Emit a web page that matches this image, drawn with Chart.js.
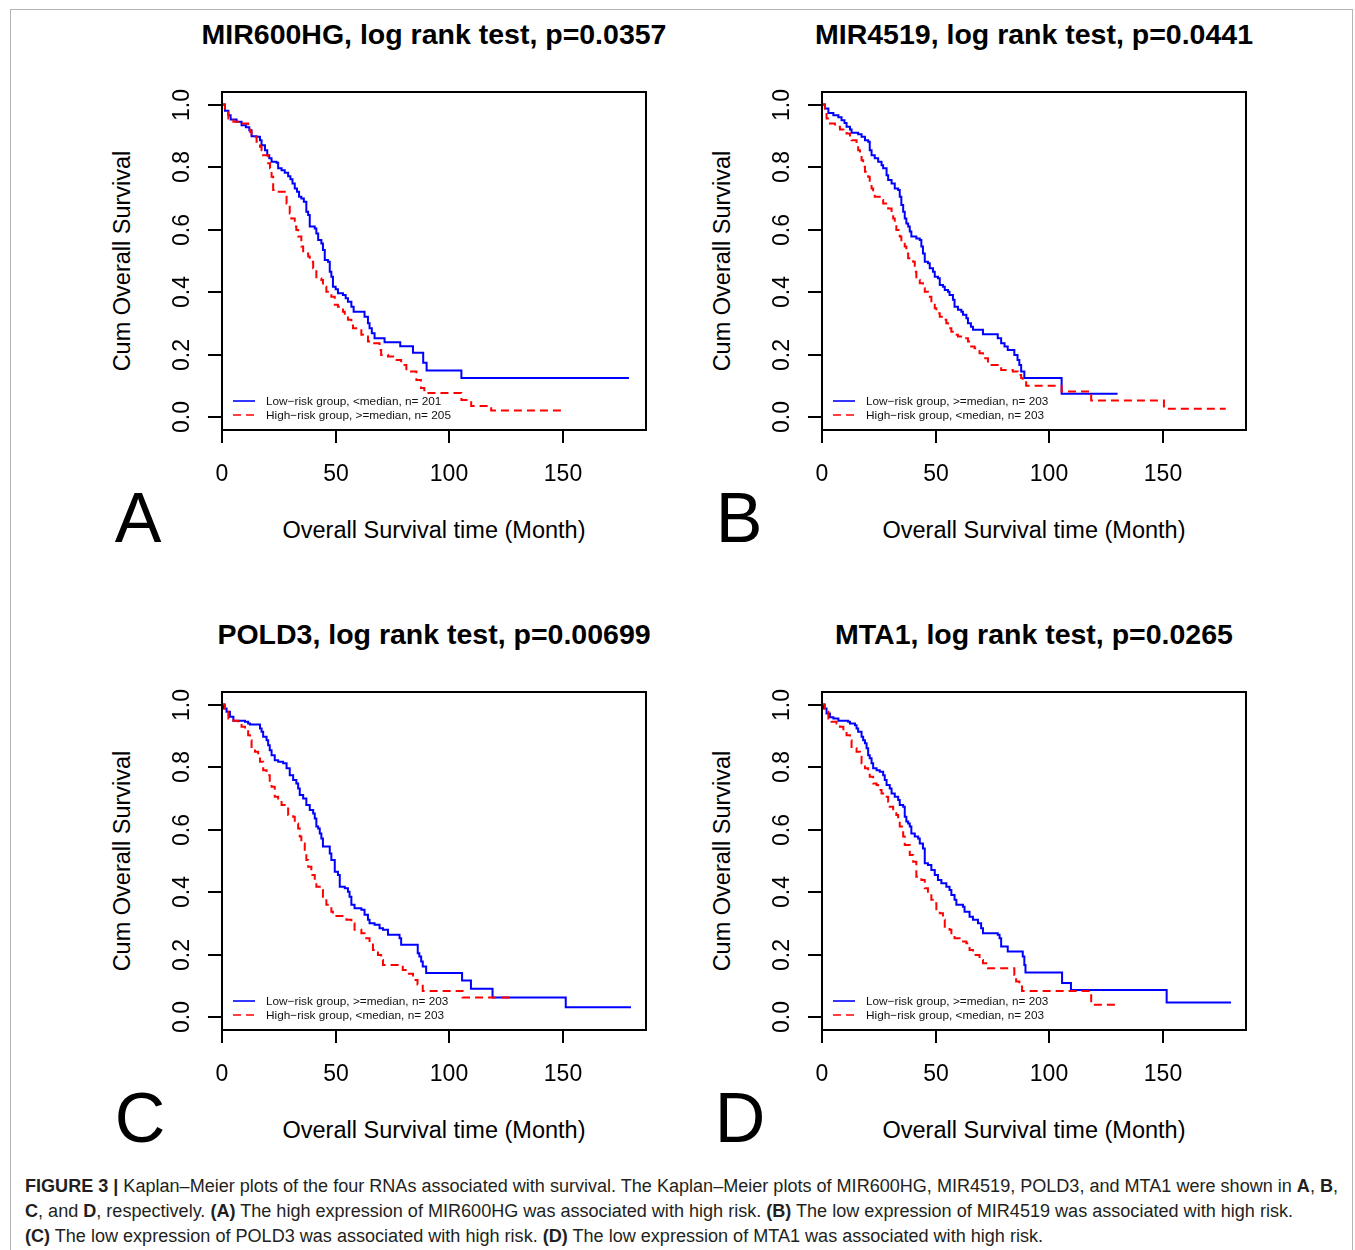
<!DOCTYPE html>
<html>
<head>
<meta charset="utf-8">
<script src="https://cdn.jsdelivr.net/npm/chart.js@4.4.1/dist/chart.umd.min.js"></script>
<style>
  html, body { margin: 0; padding: 0; background: #fff; }
  body { width: 1355px; height: 1250px; position: relative; overflow: hidden;
         font-family: "Liberation Sans", Arial, sans-serif; color: #000; }
  .frame { position: absolute; left: 10px; top: 9px; width: 1343px; height: 1300px;
           border: 1px solid #b4b4b4; box-sizing: border-box; }
  canvas.km { position: absolute; }
  .title { position: absolute; width: 600px; margin-left: -300px; height: 40px; line-height: 40px;
           margin-top: -20px; text-align: center; font-weight: bold; font-size: 28.5px; white-space: nowrap; }
  .xlab { position: absolute; width: 500px; margin-left: -250px; height: 30px; line-height: 30px;
          margin-top: -15px; text-align: center; font-size: 23.5px; white-space: nowrap; }
  .ylab { position: absolute; width: 300px; margin-left: -150px; height: 30px; line-height: 30px;
          margin-top: -15px; text-align: center; font-size: 23.5px; white-space: nowrap;
          transform: rotate(-90deg); }
  .letter { position: absolute; width: 100px; margin-left: -50px; height: 80px; line-height: 80px;
            margin-top: -40px; text-align: center; font-size: 70px; }
  .caption { position: absolute; left: 25px; top: 1174px; font-size: 18px; color: #231f20; }
  .cap-line { display: inline-block; white-space: nowrap; height: 25px; line-height: 25px;
              transform-origin: 0 50%; }
  .caption b { font-weight: bold; }
</style>
</head>
<body>
<div class="frame"></div>

<div class="title" style="left:434px; top:34px">MIR600HG, log rank test, p=0.0357</div>
<div class="title" style="left:1034px; top:34px">MIR4519, log rank test, p=0.0441</div>
<div class="title" style="left:434px; top:634px">POLD3, log rank test, p=0.00699</div>
<div class="title" style="left:1034px; top:634px">MTA1, log rank test, p=0.0265</div>

<div class="ylab" style="left:122px; top:261px">Cum Overall Survival</div>
<div class="ylab" style="left:722px; top:261px">Cum Overall Survival</div>
<div class="ylab" style="left:122px; top:861px">Cum Overall Survival</div>
<div class="ylab" style="left:722px; top:861px">Cum Overall Survival</div>

<div class="xlab" style="left:434px; top:530px">Overall Survival time (Month)</div>
<div class="xlab" style="left:1034px; top:530px">Overall Survival time (Month)</div>
<div class="xlab" style="left:434px; top:1130px">Overall Survival time (Month)</div>
<div class="xlab" style="left:1034px; top:1130px">Overall Survival time (Month)</div>

<div class="letter" style="left:138px; top:518px">A</div>
<div class="letter" style="left:739px; top:518px">B</div>
<div class="letter" style="left:140px; top:1118px">C</div>
<div class="letter" style="left:740px; top:1118px">D</div>

<canvas class="km" id="kmA" width="680" height="560" style="left:0; top:0"></canvas>
<canvas class="km" id="kmB" width="680" height="560" style="left:600px; top:0"></canvas>
<canvas class="km" id="kmC" width="680" height="560" style="left:0; top:600px"></canvas>
<canvas class="km" id="kmD" width="680" height="560" style="left:600px; top:600px"></canvas>

<div class="caption">
  <div><span class="cap-line"><b>FIGURE 3 |</b> Kaplan–Meier plots of the four RNAs associated with survival. The Kaplan–Meier plots of MIR600HG, MIR4519, POLD3, and MTA1 were shown in <b>A</b>, <b>B</b>,</span></div>
  <div><span class="cap-line"><b>C</b>, and <b>D</b>, respectively. <b>(A)</b> The high expression of MIR600HG was associated with high risk. <b>(B)</b> The low expression of MIR4519 was associated with high risk.</span></div>
  <div><span class="cap-line"><b>(C)</b> The low expression of POLD3 was associated with high risk. <b>(D)</b> The low expression of MTA1 was associated with high risk.</span></div>
</div>

<script>
/* global Chart */

// axis ticks (months / survival probability)
const xTicks = [0, 50, 100, 150];
const yTicks = [0, 0.2, 0.4, 0.6, 0.8, 1.0];

// A: MIR600HG
const aLowTime = [0,1.3,2.8,3.8,6.4,8.6,10.5,12,13,15.2,16.7,17.4,18.9,19.9,20.8,21.8,24,24.7,26.2,27.6,29.1,30.1,31,32,33,33.9,34.9,36,37.1,37.9,38.6,40.8,41.5,42.3,43.7,44.4,45.2,46.6,47.4,48.1,48.8,50,51,53.2,54.4,55.4,56.9,57.9,62.7,64.2,64.9,65.9,67.1,71.5,78.4,84,88.5,90,105.3,179];
const aLowSurv = [1,0.98,0.966,0.952,0.945,0.934,0.927,0.918,0.899,0.897,0.886,0.87,0.854,0.838,0.828,0.817,0.814,0.796,0.79,0.782,0.771,0.761,0.748,0.732,0.721,0.705,0.7,0.689,0.657,0.647,0.61,0.604,0.588,0.567,0.556,0.535,0.503,0.498,0.466,0.45,0.418,0.41,0.397,0.391,0.381,0.37,0.354,0.338,0.322,0.301,0.285,0.269,0.253,0.24,0.228,0.207,0.175,0.15,0.126,0.126];
const aHighTime = [0,1.3,2.8,5,7.9,11.5,12.3,13,15.2,16.7,17.4,18.1,20.3,21.1,21.8,22.5,24,27.6,28.4,29.8,30.5,32,32.7,33.5,34.9,35.7,37.9,38.6,40.1,41.5,43.7,44.4,45.9,47.4,48.1,49.6,51,53.2,54,55.4,56.9,57.6,61.3,62,64.2,66.4,69.3,70,73,75.9,78.8,81.1,85.5,87.5,89,105.3,109.6,118.4,151.3];
const aHighSurv = [1,0.98,0.955,0.945,0.939,0.929,0.913,0.897,0.881,0.865,0.854,0.838,0.812,0.796,0.769,0.727,0.721,0.705,0.684,0.652,0.636,0.61,0.599,0.578,0.546,0.524,0.514,0.498,0.477,0.445,0.439,0.418,0.402,0.397,0.386,0.36,0.354,0.338,0.328,0.312,0.301,0.285,0.264,0.259,0.243,0.237,0.216,0.2,0.195,0.184,0.168,0.147,0.12,0.094,0.078,0.056,0.037,0.022,0.022];

// B: MIR4519
const bLowTime = [0,1.3,2.8,5,7.2,8.6,9.9,10.8,12.3,13,15.9,17.4,18.9,20.3,21,21.8,23.2,24.7,26.2,26.9,28.4,29.1,30.6,32,33.5,34.2,34.9,35.7,36.4,37.1,37.9,38.6,39.3,41.5,43,43.7,44.4,45.2,46.6,47.4,48.8,49.6,51,51.8,53.2,54,55.4,56.1,57.6,58.3,59.8,61.3,62,63.5,64.2,65.5,66.4,70.8,77.3,78.8,80.3,81.7,84.6,86,86.8,87.6,89,105.4,130];
const bLowSurv = [1,0.987,0.973,0.966,0.959,0.95,0.941,0.929,0.92,0.91,0.905,0.897,0.886,0.881,0.854,0.838,0.828,0.817,0.806,0.796,0.774,0.759,0.748,0.732,0.727,0.705,0.679,0.657,0.636,0.62,0.61,0.594,0.578,0.572,0.567,0.546,0.524,0.498,0.493,0.477,0.466,0.45,0.445,0.423,0.418,0.407,0.402,0.391,0.376,0.354,0.344,0.338,0.328,0.317,0.301,0.29,0.28,0.266,0.253,0.237,0.227,0.216,0.2,0.184,0.168,0.147,0.126,0.076,0.076];
const bHighTime = [0,1.3,2,3.5,5.7,7.9,9.4,10.8,12.3,13,15.2,15.9,16.7,17.4,18.1,18.9,20.3,21,21.8,22.5,23.2,25.4,26.9,29.1,30.6,31.3,32,32.7,34.2,34.9,36.4,37.1,37.9,40.1,40.8,41.5,43,44.4,45.2,46.6,48.1,49.6,50.3,51.8,53.2,54.7,55.4,56.9,57.6,59.8,62,64.2,65.6,67.1,69.3,70.8,73,78.1,78.8,83.9,86.1,87.6,88.3,89.8,105.4,118.4,150.4,177.6];
const bHighSurv = [1,0.977,0.955,0.939,0.929,0.92,0.913,0.907,0.897,0.886,0.87,0.854,0.838,0.822,0.801,0.785,0.769,0.748,0.732,0.716,0.705,0.695,0.684,0.668,0.652,0.636,0.62,0.599,0.578,0.562,0.546,0.524,0.509,0.498,0.466,0.439,0.429,0.413,0.402,0.386,0.365,0.349,0.333,0.322,0.312,0.301,0.285,0.274,0.264,0.259,0.253,0.243,0.227,0.221,0.205,0.189,0.168,0.163,0.152,0.147,0.136,0.126,0.12,0.101,0.083,0.054,0.028,0.028];

// C: POLD3
const cLowTime = [0,0.9,2,3.5,5,10.1,11.5,12.3,16.7,17.4,18.1,19.6,20.3,21,21.8,23.2,24.7,26.9,28.4,29.8,31.3,32.7,33.5,34.2,35.7,37.1,38.6,40.1,40.8,41.5,42.3,43,43.7,44.4,47.4,48.1,49.6,51,51.8,54,55.4,56.1,56.9,58.3,61.3,62.7,64.2,64.9,67.1,69.3,70.8,73,78.1,78.8,86.1,86.8,87.6,88.3,89.8,105.6,109.5,119,151.2,179.9];
const cLowSurv = [1,0.987,0.977,0.961,0.948,0.945,0.939,0.936,0.923,0.913,0.897,0.886,0.87,0.854,0.838,0.822,0.817,0.812,0.796,0.774,0.759,0.748,0.732,0.711,0.7,0.679,0.663,0.652,0.636,0.61,0.604,0.588,0.572,0.546,0.524,0.503,0.466,0.455,0.418,0.413,0.402,0.386,0.36,0.349,0.344,0.328,0.312,0.301,0.296,0.285,0.28,0.264,0.253,0.232,0.205,0.195,0.179,0.163,0.142,0.118,0.092,0.064,0.033,0.033];
const cHighTime = [0,1.3,2.8,5,7.2,8.6,10.1,11.5,12.3,13,14.5,15.9,16.7,18.1,19.6,21,21.8,23.2,24.7,26.2,27.6,29.1,31.3,32,33.5,34.2,34.9,36.4,37.1,37.9,39.3,40.8,41.5,43,44.4,45.9,47.4,48.1,48.8,54.7,56.9,58.3,61.3,62.7,64.9,66.4,68.6,70,70.8,79.5,81.7,84,86,88.3,105.8,126.3];
const cHighSurv = [1,0.977,0.955,0.948,0.939,0.929,0.918,0.902,0.886,0.86,0.849,0.833,0.817,0.79,0.774,0.753,0.737,0.705,0.7,0.679,0.668,0.647,0.641,0.62,0.604,0.578,0.556,0.524,0.503,0.482,0.455,0.434,0.418,0.407,0.386,0.36,0.354,0.338,0.324,0.312,0.301,0.28,0.269,0.253,0.237,0.216,0.2,0.184,0.168,0.152,0.14,0.12,0.105,0.085,0.064,0.064];

// D: MTA1
const dLowTime = [0,0.9,2,3.5,5,7.2,11.5,12.3,14.5,15.2,15.9,17.4,18.1,18.9,19.6,20.3,21,21.8,22.5,24,25.4,26.9,27.6,28.4,29.8,30.6,32,33.5,34.2,35.7,36.4,37.1,37.9,38.6,39.3,40.8,42.3,43,44.4,45.2,46.6,48.1,49.6,51,52.5,54.7,56.1,56.9,58.3,59.1,62,62.7,64.9,66.4,68.6,70,70.8,77.3,78.1,78.8,81.7,88.3,89,89.5,105.6,109.5,151.6,179.9];
const dLowSurv = [1,0.987,0.971,0.959,0.955,0.948,0.945,0.939,0.934,0.923,0.913,0.897,0.886,0.876,0.86,0.838,0.828,0.812,0.796,0.79,0.785,0.774,0.759,0.743,0.732,0.716,0.705,0.695,0.679,0.673,0.641,0.626,0.62,0.61,0.588,0.578,0.572,0.556,0.54,0.493,0.487,0.471,0.455,0.439,0.429,0.418,0.407,0.391,0.376,0.36,0.354,0.338,0.322,0.312,0.301,0.285,0.269,0.264,0.253,0.227,0.211,0.195,0.168,0.144,0.11,0.088,0.048,0.048];
const dHighTime = [0,1.3,2.8,4.2,6.4,7.9,9.4,10.8,12.3,13,15.2,16.7,17.4,18.9,20.3,21,22.5,24,24.7,26.2,27.6,29.1,29.8,31.3,32.7,33.5,34.2,35.7,36.4,38.6,40.1,41.5,43.7,45.2,46.6,48.1,49.6,50.3,51.8,53.2,54,56.1,56.9,58.3,60.5,63.5,64.9,66.4,69.3,70.8,73,84.6,85.4,86.8,88,118.4,130];
const dHighSurv = [1,0.977,0.955,0.945,0.939,0.929,0.918,0.902,0.886,0.86,0.849,0.833,0.812,0.796,0.785,0.769,0.748,0.743,0.727,0.716,0.705,0.689,0.673,0.657,0.647,0.631,0.61,0.578,0.551,0.519,0.498,0.45,0.439,0.413,0.402,0.376,0.365,0.338,0.333,0.312,0.29,0.28,0.264,0.253,0.243,0.237,0.216,0.2,0.184,0.173,0.157,0.136,0.115,0.099,0.085,0.041,0.041];

const legendA = ["Low\u2212risk group, <median, n= 201", "High\u2212risk group, >=median, n= 205"];
const legendBCD = ["Low\u2212risk group, >=median, n= 203", "High\u2212risk group, <median, n= 203"];

const BLUE = "#0000ff";
const RED = "#ff0000";
const FONT = '"Liberation Sans", Arial, sans-serif';
const RED_DASH = [8, 5];

function zip(ts, ss) {
  return ts.map((t, i) => ({ x: t, y: ss[i] }));
}

// R-style frame: box, outside ticks, rotated y labels, legend in the corner
const rFrame = {
  id: "rFrame",
  afterDraw(chart, args, opts) {
    const { ctx, chartArea: a } = chart;
    const xs = chart.scales.x;
    const ys = chart.scales.y;
    ctx.save();
    ctx.strokeStyle = "#000";
    ctx.fillStyle = "#000";
    ctx.lineWidth = 2;
    ctx.setLineDash([]);
    ctx.strokeRect(a.left, a.top, a.right - a.left, a.bottom - a.top);

    ctx.font = `23px ${FONT}`;
    ctx.textAlign = "center";
    ctx.textBaseline = "alphabetic";
    xTicks.forEach((v) => {
      const px = Math.round(xs.getPixelForValue(v));
      ctx.beginPath();
      ctx.moveTo(px, a.bottom);
      ctx.lineTo(px, a.bottom + 13);
      ctx.stroke();
      ctx.fillText(String(v), px, a.bottom + 51);
    });
    yTicks.forEach((v) => {
      const py = Math.round(ys.getPixelForValue(v));
      ctx.beginPath();
      ctx.moveTo(a.left - 14, py);
      ctx.lineTo(a.left, py);
      ctx.stroke();
      ctx.save();
      ctx.translate(a.left - 33, py);
      ctx.rotate(-Math.PI / 2);
      ctx.fillText(v.toFixed(1), 0, 0);
      ctx.restore();
    });

    // legend
    const rows = [a.bottom - 29, a.bottom - 15];
    const cols = [BLUE, RED];
    ctx.font = `11.8px ${FONT}`;
    ctx.textAlign = "left";
    ctx.textBaseline = "middle";
    rows.forEach((ry, i) => {
      ctx.strokeStyle = cols[i];
      ctx.lineWidth = 1.6;
      ctx.setLineDash(i === 1 ? RED_DASH : []);
      ctx.beginPath();
      ctx.moveTo(a.left + 11, ry);
      ctx.lineTo(a.left + 33, ry);
      ctx.stroke();
      ctx.setLineDash([]);
      ctx.fillStyle = "#111";
      ctx.fillText(opts.labels[i], a.left + 44, ry + 0.5);
    });
    ctx.restore();
  },
};

function renderKm(id, lowT, lowS, highT, highS, labels) {
  const ctx = document.getElementById(id);
  // eslint-disable-next-line no-new
  new Chart(ctx, {
    type: "line",
    data: {
      datasets: [
        {
          label: labels[0],
          data: zip(lowT, lowS),
          borderColor: BLUE,
          borderWidth: 2,
          stepped: true,
          pointRadius: 0,
          fill: false,
          order: 1,
        },
        {
          label: labels[1],
          data: zip(highT, highS),
          borderColor: RED,
          borderWidth: 2,
          borderDash: RED_DASH,
          stepped: true,
          pointRadius: 0,
          fill: false,
          order: 0,
        },
      ],
    },
    options: {
      responsive: false,
      animation: false,
      events: [],
      layout: { padding: { left: 222, top: 92, right: 34, bottom: 130 } },
      plugins: {
        legend: { display: false },
        tooltip: { enabled: false },
        rFrame: { labels },
      },
      scales: {
        x: { type: "linear", min: 0, max: 186.5, display: false },
        y: { type: "linear", min: -0.04, max: 1.04, display: false },
      },
    },
    plugins: [rFrame],
  });
}

renderKm("kmA", aLowTime, aLowSurv, aHighTime, aHighSurv, legendA);
renderKm("kmB", bLowTime, bLowSurv, bHighTime, bHighSurv, legendBCD);
renderKm("kmC", cLowTime, cLowSurv, cHighTime, cHighSurv, legendBCD);
renderKm("kmD", dLowTime, dLowSurv, dHighTime, dHighSurv, legendBCD);

// caption lines are set in a narrow face in the original; squeeze to the same widths
const captionWidths = [1313, 1268, 1018];
document.querySelectorAll(".cap-line").forEach((el, i) => {
  const w = el.getBoundingClientRect().width;
  el.style.transform = `scaleX(${captionWidths[i] / w})`;
});
</script>
</body>
</html>
